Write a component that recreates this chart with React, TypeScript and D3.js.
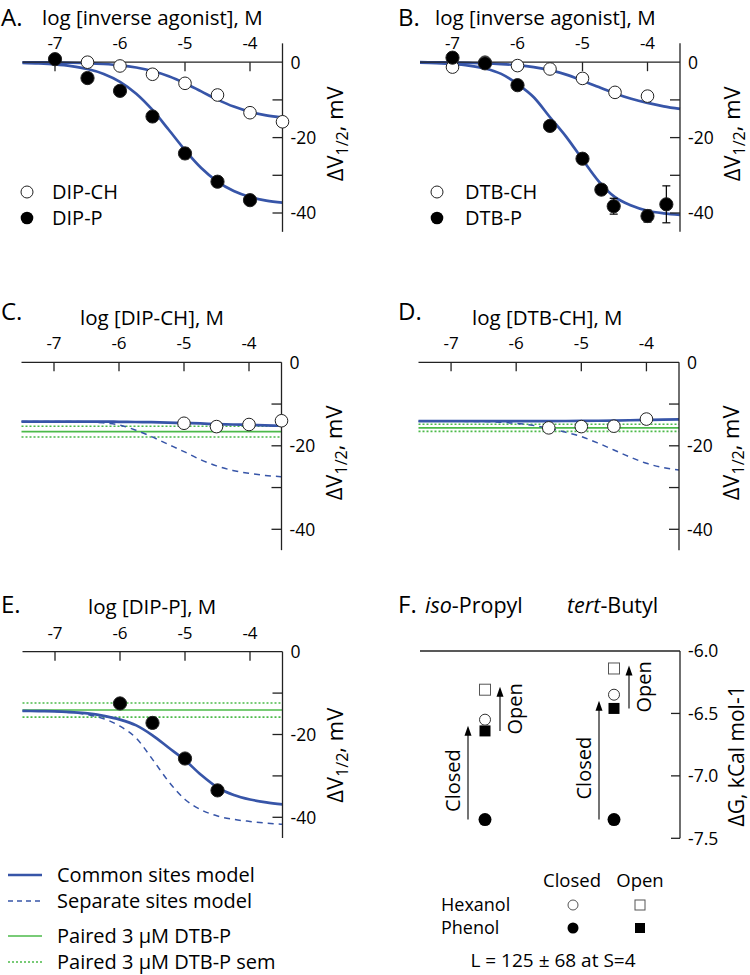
import React from "react";
import * as d3 from "d3";

// ---------- shared grids ----------
const curveX = [-7.5, -7.25, -7, -6.75, -6.5, -6.25, -6, -5.75, -5.5, -5.25, -5, -4.75, -4.5, -4.25, -4, -3.75, -3.5];
const xTicks = [-7, -6, -5, -4];
const yTicks = [-10, -20, -30, -40];
const yTickLabels = [0, -20, -40];

// ---------- Panel A (DIP) ----------
const aCHx = [-6.5, -6, -5.5, -5, -4.5, -4, -3.5];
const aCHy = [0, -1.0, -3.2, -5.6, -8.7, -13.4, -15.8];
const aPx = [-7, -6.5, -6, -5.5, -5, -4.5, -4];
const aPy = [0.8, -4.2, -7.6, -14.4, -24.2, -31.7, -36.6];
const aPerr = [0, 0, 0, 0, 1.4, 0, 0];
const aCHfit = [-0.03, -0.05, -0.09, -0.15, -0.27, -0.48, -0.82, -1.41, -2.34, -3.73, -5.58, -7.75, -9.92, -11.78, -13.16, -14.09, -14.68];
const aPfit = [-0.19, -0.34, -0.59, -1.04, -1.81, -3.11, -5.2, -8.35, -12.67, -17.92, -23.3, -28.05, -31.67, -34.17, -35.75, -36.7, -37.25];

// ---------- Panel B (DTB) ----------
const bCHx = [-7, -6.5, -6, -5.5, -5, -4.5, -4];
const bCHy = [-1.3, 0, -0.9, -1.8, -4.3, -8.0, -9.0];
const bPx = [-7, -6.5, -6, -5.5, -5, -4.71, -4.52, -4, -3.71];
const bPy = [1.2, -0.3, -6.1, -16.9, -25.6, -33.8, -38.2, -40.8, -37.7];
const bPerr = [0, 0, 0, 0, 1.0, 1.0, 2.1, 1.6, 4.9];
const bCHfit = [0, -0.05, -0.1, -0.18, -0.3, -0.5, -0.8, -1.3, -2.1, -3.3, -4.9, -6.6, -8.3, -9.7, -10.8, -11.7, -12.4];
const bPfit = [-0.14, -0.26, -0.48, -0.9, -1.66, -3.1, -5.8, -9.3, -14.6, -19.8, -25.8, -31.6, -35.8, -38.0, -39.4, -40.1, -40.5];

// ---------- Panel C (DIP-CH) ----------
const cX = [-5, -4.5, -4, -3.5];
const cY = [-14.6, -15.4, -14.9, -14.0];
const cCommon = [-14.2, -14.2, -14.2, -14.2, -14.2, -14.2, -14.25, -14.3, -14.35, -14.45, -14.55, -14.65, -14.8, -14.9, -15.0, -15.1, -15.2];
const cSeparate = [-14.2, -14.2, -14.2, -14.2, -14.25, -14.5, -15.0, -16.2, -17.8, -19.6, -21.4, -23.3, -24.8, -25.9, -26.6, -27.1, -27.4];
const cGreen = -16.6;
const cGreenSem = 1.3;

// ---------- Panel D (DTB-CH) ----------
const dX = [-5.5, -5, -4.5, -4];
const dY = [-15.7, -15.4, -15.3, -13.6];
const dCommon = [-14.1, -14.1, -14.1, -14.1, -14.1, -14.1, -14.1, -14.1, -14.08, -14.06, -14.04, -14.0, -13.95, -13.88, -13.8, -13.72, -13.65];
const dSeparate = [-14.1, -14.1, -14.1, -14.15, -14.2, -14.35, -14.6, -15.1, -15.8, -16.7, -17.8, -19.3, -21.0, -22.7, -24.2, -25.2, -25.8];
const dGreen = -15.7;
const dGreenSem = 0.85;

// ---------- Panel E (DIP-P) ----------
const eX = [-6, -5.5, -5, -4.5];
const eY = [-12.5, -17.2, -25.8, -33.5];
const eErr = [0.5, 1.3, 0.5, 0.5];
const eCommon = [-14.3, -14.35, -14.4, -14.6, -14.9, -15.5, -16.4, -17.8, -20.2, -23.2, -26.2, -29.8, -32.8, -34.6, -35.7, -36.4, -36.9];
const eSeparate = [-14.3, -14.35, -14.45, -14.7, -15.2, -16.2, -18.0, -20.9, -26.0, -31.4, -35.7, -38.2, -39.7, -40.5, -41.0, -41.4, -41.7];
const eGreen = -14.1;
const eGreenSem = 1.7;

// ---------- Panel F (free energies) ----------
const fGroups = ["iso-Propyl", "tert-Butyl"];
const fHexanolClosed = [-6.55, -6.35];
const fHexanolOpen = [-6.31, -6.14];
const fPhenolClosed = [-7.35, -7.35];
const fPhenolOpen = [-6.64, -6.46];
const fTicks = [-6.0, -6.5, -7.0, -7.5];

const BLUE = "#3755a8";
const GREEN = "#4cba4a";
const FONT = "'Open Sans', 'Noto Sans', sans-serif";

type Pts = { xs: number[]; ys: number[]; errs?: number[]; filled: boolean };

function YLabel({ x, y, fs = 22 }: { x: number; y: number; fs?: number }) {
  return (
    <text transform={`translate(${x},${y}) rotate(-90)`} textAnchor="middle" fontSize={fs}>
      ΔV<tspan dy={5} fontSize={16}>1/2</tspan>
      <tspan dy={-5}>, mV</tspan>
    </text>
  );
}

function Panel(props: {
  letter: string; letterX: number; letterY: number;
  title: string; titleX: number; titleY: number;
  x0: number; x1: number; y0: number; y40: number; topVal: number; labelVal: number;
  common: number[][]; separate?: number[];
  green?: [number, number];
  points: Pts[];
}) {
  const { letter, letterX, letterY, title, titleX, titleY, x0, x1, y0, y40, topVal, labelVal, common, separate, green, points } = props;
  const x = d3.scaleLinear().domain([-7.5, -3.5]).range([x0, x1]);
  const y = d3.scaleLinear().domain([0, -40]).range([y0, y40]);
  const line = d3
    .line<number>()
    .x((_d, i) => x(curveX[i]))
    .y((d) => y(d))
    .curve(d3.curveMonotoneX);
  const r = 6.3;
  return (
    <g>
      <text x={letterX} y={letterY} fontSize={24}>{letter}</text>
      <text x={titleX} y={titleY} fontSize={20.5}>{title}</text>
      {green && (
        <g>
          <line x1={x0} x2={x1} y1={y(green[0])} y2={y(green[0])} stroke={GREEN} strokeWidth={1.6} />
          <line x1={x0} x2={x1} y1={y(green[0] + green[1])} y2={y(green[0] + green[1])} stroke={GREEN} strokeWidth={1.6} strokeDasharray="2,2" />
          <line x1={x0} x2={x1} y1={y(green[0] - green[1])} y2={y(green[0] - green[1])} stroke={GREEN} strokeWidth={1.6} strokeDasharray="2,2" />
        </g>
      )}
      {separate && <path d={line(separate) || ""} fill="none" stroke={BLUE} strokeWidth={1.5} strokeDasharray="6,5" />}
      {common.map((c, i) => (
        <path key={i} d={line(c) || ""} fill="none" stroke={BLUE} strokeWidth={2.7} />
      ))}
      <line x1={x0} x2={x1} y1={y0} y2={y0} stroke="#222" strokeWidth={1.3} />
      {xTicks.map((t) => (
        <g key={t}>
          <line x1={x(t)} x2={x(t)} y1={y0} y2={y0 + 9} stroke="#222" strokeWidth={1.3} />
          <text x={x(t)} y={y0 - 13} textAnchor="middle" fontSize={17}>{t}</text>
        </g>
      ))}
      <line x1={x1} x2={x1} y1={y(topVal)} y2={y(-45)} stroke="#222" strokeWidth={1.3} />
      {yTicks.map((t) => (
        <line key={t} x1={x1 - 10} x2={x1} y1={y(t)} y2={y(t)} stroke="#222" strokeWidth={1.3} />
      ))}
      {yTickLabels.map((t) => (
        <text key={t} x={x1 + 8} y={y(t)} dy="0.36em" fontSize={17.5}>{t}</text>
      ))}
      <YLabel x={x1 + 60} y={y(labelVal)} />
      {points.map((p, k) => (
        <g key={k}>
          {p.xs.map((xv, i) => {
            const e = p.errs ? p.errs[i] : 0;
            return e > 0 ? (
              <g key={"e" + i}>
                <line x1={x(xv)} x2={x(xv)} y1={y(p.ys[i] + e)} y2={y(p.ys[i] - e)} stroke="#000" strokeWidth={1.2} />
                <line x1={x(xv) - 4} x2={x(xv) + 4} y1={y(p.ys[i] + e)} y2={y(p.ys[i] + e)} stroke="#000" strokeWidth={1.2} />
                <line x1={x(xv) - 4} x2={x(xv) + 4} y1={y(p.ys[i] - e)} y2={y(p.ys[i] - e)} stroke="#000" strokeWidth={1.2} />
              </g>
            ) : null;
          })}
          {p.xs.map((xv, i) => (
            <circle key={i} cx={x(xv)} cy={y(p.ys[i])} r={p.filled ? r + 0.3 : r}
              fill={p.filled ? "#000" : "#fff"} stroke="#222" strokeWidth={1} />
          ))}
        </g>
      ))}
    </g>
  );
}

function Arrow({ x, yFrom, yTo }: { x: number; yFrom: number; yTo: number }) {
  return (
    <g>
      <line x1={x} x2={x} y1={yFrom} y2={yTo + 8} stroke="#000" strokeWidth={1.1} />
      <path d={`M${x},${yTo} L${x - 3.5},${yTo + 10} L${x + 3.5},${yTo + 10} Z`} fill="#000" />
    </g>
  );
}

function PanelF() {
  const y = d3.scaleLinear().domain([-6, -7.5]).range([651, 838.3]);
  const x = d3.scalePoint<string>().domain(fGroups).range([485, 614]);
  const axX = 680;
  const sq = 11;
  return (
    <g>
      <text x={398} y={613} fontSize={24}>F.</text>
      <text x={425} y={613} fontSize={21.5}><tspan fontStyle="italic">iso</tspan>-Propyl</text>
      <text x={567} y={613} fontSize={21.5}><tspan fontStyle="italic">tert</tspan>-Butyl</text>
      <line x1={420} x2={axX} y1={y(-6)} y2={y(-6)} stroke="#222" strokeWidth={1.3} />
      <line x1={axX} x2={axX} y1={y(-6)} y2={y(-7.5)} stroke="#222" strokeWidth={1.3} />
      {fTicks.map((t) => (
        <g key={t}>
          {t !== -6 && <line x1={axX - 9} x2={axX} y1={y(t)} y2={y(t)} stroke="#222" strokeWidth={1.3} />}
          <text x={axX + 8} y={y(t)} dy="0.36em" fontSize={17.5}>{t.toFixed(1)}</text>
        </g>
      ))}
      <text transform={`translate(744,${y(-6.84)}) rotate(-90)`} textAnchor="middle" fontSize={21}>ΔG, kCal mol-1</text>
      {fGroups.map((g, i) => {
        const cx = x(g) as number;
        const closedX = cx - (i === 0 ? 17 : 15);
        const openX = cx + 15;
        const cFrom = y(fPhenolClosed[i]);
        const cTo = y(fHexanolClosed[i]) + 6;
        const oFrom = y(fPhenolOpen[i]);
        const oTo = y(fHexanolOpen[i]) - 3;
        return (
          <g key={g}>
            <Arrow x={closedX} yFrom={cFrom} yTo={cTo} />
            <Arrow x={openX} yFrom={oFrom} yTo={oTo} />
            <text transform={`translate(${closedX - 8},${(cFrom + cTo) / 2 + 8}) rotate(-90)`} textAnchor="middle" fontSize={20}>Closed</text>
            <text transform={`translate(${openX + 22},${(oFrom + oTo) / 2}) rotate(-90)`} textAnchor="middle" fontSize={20}>Open</text>
            <rect x={cx - sq / 2} y={y(fHexanolOpen[i]) - sq / 2} width={sq} height={sq} fill="#fff" stroke="#555" strokeWidth={1} />
            <rect x={cx - sq / 2} y={y(fPhenolOpen[i]) - sq / 2} width={sq} height={sq} fill="#000" />
            <circle cx={cx} cy={y(fHexanolClosed[i])} r={5.5} fill="#fff" stroke="#333" strokeWidth={1} />
            <circle cx={cx} cy={y(fPhenolClosed[i])} r={6.5} fill="#000" />
          </g>
        );
      })}
      <text x={572} y={887} textAnchor="middle" fontSize={18.5}>Closed</text>
      <text x={640} y={887} textAnchor="middle" fontSize={18.5}>Open</text>
      <text x={441} y={911} fontSize={18}>Hexanol</text>
      <text x={441} y={934} fontSize={18}>Phenol</text>
      <circle cx={573} cy={905} r={5} fill="#fff" stroke="#555" strokeWidth={1} />
      <rect x={635} y={900} width={10} height={10} fill="#fff" stroke="#555" strokeWidth={1} />
      <circle cx={573} cy={928} r={5.5} fill="#000" />
      <rect x={635} y={923} width={10} height={10} fill="#000" />
      <text x={553} y={967} textAnchor="middle" fontSize={19}>L = 125 ± 68 at S=4</text>
    </g>
  );
}

export default function App() {
  return (
    <svg width={750} height={975} style={{ position: "absolute", left: 0, top: 0, background: "#fff" }}
      fontFamily={FONT} fill="#000">
      <Panel letter="A." letterX={1} letterY={26} title="log [inverse agonist], M" titleX={42} titleY={25}
        x0={22.5} x1={282.5} y0={62.2} y40={213} topVal={5} labelVal={-19}
        common={[aCHfit, aPfit]}
        points={[{ xs: aCHx, ys: aCHy, filled: false }, { xs: aPx, ys: aPy, errs: aPerr, filled: true }]} />
      <circle cx={27} cy={192} r={6} fill="#fff" stroke="#222" />
      <text x={52} y={198.5} fontSize={20}>DIP-CH</text>
      <circle cx={27} cy={218} r={6.3} fill="#000" />
      <text x={52} y={224.5} fontSize={20}>DIP-P</text>

      <Panel letter="B." letterX={398} letterY={26} title="log [inverse agonist], M" titleX={435} titleY={25}
        x0={420} x1={680} y0={62.2} y40={213} topVal={5} labelVal={-19}
        common={[bCHfit, bPfit]}
        points={[{ xs: bCHx, ys: bCHy, filled: false }, { xs: bPx, ys: bPy, errs: bPerr, filled: true }]} />
      <circle cx={437} cy={192} r={6} fill="#fff" stroke="#222" />
      <text x={465} y={198.5} fontSize={20}>DTB-CH</text>
      <circle cx={437} cy={218} r={6.3} fill="#000" />
      <text x={465} y={224.5} fontSize={20}>DTB-P</text>

      <Panel letter="C." letterX={1} letterY={320} title="log [DIP-CH], M" titleX={80} titleY={325}
        x0={21.5} x1={281.5} y0={362.3} y40={529.3} topVal={0} labelVal={-21.7}
        common={[cCommon]} separate={cSeparate} green={[cGreen, cGreenSem]}
        points={[{ xs: cX, ys: cY, filled: false }]} />

      <Panel letter="D." letterX={398} letterY={320} title="log [DTB-CH], M" titleX={472} titleY={325}
        x0={418.5} x1={679} y0={362.3} y40={529.3} topVal={0} labelVal={-21.7}
        common={[dCommon]} separate={dSeparate} green={[dGreen, dGreenSem]}
        points={[{ xs: dX, ys: dY, filled: false }]} />

      <Panel letter="E." letterX={1} letterY={613} title="log [DIP-P], M" titleX={88} titleY={614}
        x0={22.5} x1={282.5} y0={651.7} y40={817.3} topVal={0} labelVal={-25}
        common={[eCommon]} separate={eSeparate} green={[eGreen, eGreenSem]}
        points={[{ xs: eX, ys: eY, errs: eErr, filled: true }]} />

      <PanelF />

      <line x1={8} x2={42} y1={875} y2={875} stroke={BLUE} strokeWidth={2.7} />
      <text x={57} y={882} fontSize={20}>Common sites model</text>
      <line x1={8} x2={42} y1={901} y2={901} stroke={BLUE} strokeWidth={1.5} strokeDasharray="5,4" />
      <text x={57} y={908} fontSize={20}>Separate sites model</text>
      <line x1={8} x2={42} y1={936} y2={936} stroke={GREEN} strokeWidth={1.6} />
      <text x={57} y={943} fontSize={20}>Paired 3 μM DTB-P</text>
      <line x1={8} x2={42} y1={962} y2={962} stroke={GREEN} strokeWidth={1.6} strokeDasharray="2,2" />
      <text x={57} y={968.5} fontSize={20}>Paired 3 μM DTB-P sem</text>
    </svg>
  );
}
